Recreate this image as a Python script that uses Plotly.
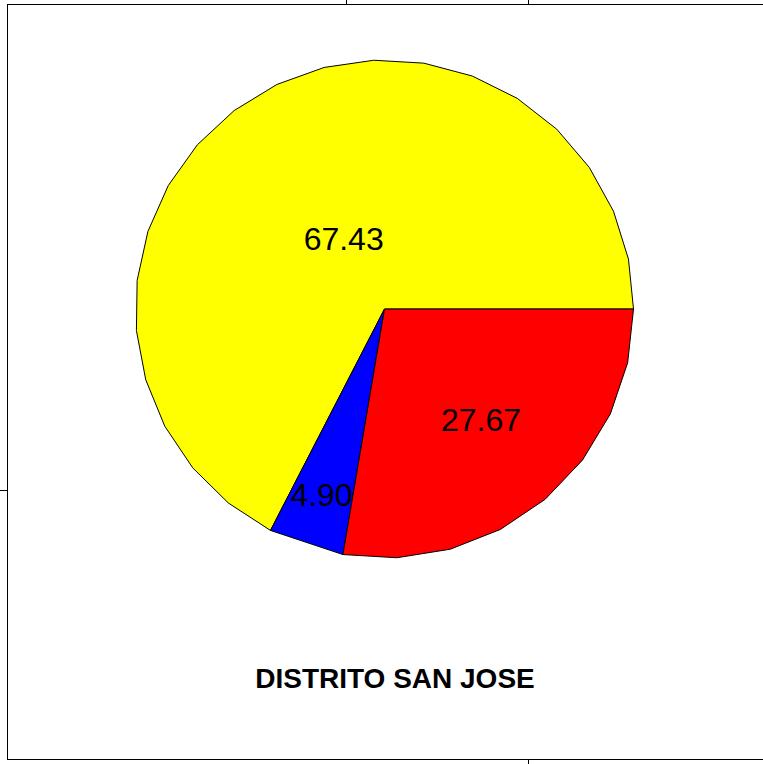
import numpy as np
import plotly.graph_objects as go

# ---- data ----
values = [67.43, 4.90, 27.67]
slice_colors = ["#FFFF00", "#0000FF", "#FF0000"]
label_radius = [0.315, 0.80, 0.60]   # where each value label sits (fraction of radius)
title_text = "DISTRITO SAN JOSE"
edges = 33   # polygon resolution of the pie outline (R style)

fig = go.Figure()

total = sum(values)
cum = np.concatenate([[0.0], np.cumsum(values) / total])
label_x, label_y, label_txt = [], [], []
for i, v in enumerate(values):
    a0, a1 = cum[i], cum[i + 1]
    n = max(2, int(np.floor(edges * (a1 - a0))))
    t = np.linspace(a0, a1, n) * 2 * np.pi
    xs = np.concatenate([[0.0], np.cos(t), [0.0]])
    ys = np.concatenate([[0.0], np.sin(t), [0.0]])
    fig.add_trace(go.Scatter(
        x=xs, y=ys, mode="lines", fill="toself",
        fillcolor=slice_colors[i],
        line=dict(color="black", width=1),
        hoverinfo="skip", showlegend=False))
    mid = (a0 + a1) / 2 * 2 * np.pi
    label_x.append(label_radius[i] * np.cos(mid))
    label_y.append(label_radius[i] * np.sin(mid))
    label_txt.append(f"{v:.2f}")

fig.add_trace(go.Scatter(
    x=label_x, y=label_y, mode="text", text=label_txt,
    textfont=dict(family="Liberation Sans, Arial, sans-serif", size=32, color="black"),
    hoverinfo="skip", showlegend=False))

# invisible trace so the top axis is drawn
fig.add_trace(go.Scatter(x=[0], y=[0], xaxis="x2", mode="markers",
                         marker=dict(opacity=0), hoverinfo="skip", showlegend=False))

xr = [-1.512, 1.520]
yr = [-1.807, 1.221]
fig.update_layout(
    width=763, height=764,
    margin=dict(l=8, r=0, t=5, b=5),
    paper_bgcolor="white", plot_bgcolor="white",
    xaxis=dict(range=xr, showgrid=False, zeroline=False, showline=True,
               linecolor="black", linewidth=1, ticks="outside", ticklen=5,
               tickcolor="black", tickvals=[0.580], showticklabels=False,
               fixedrange=True),
    xaxis2=dict(range=xr, overlaying="x", side="top", showgrid=False,
                zeroline=False, showline=True, linecolor="black", linewidth=1,
                ticks="outside", ticklen=5, tickcolor="black",
                tickvals=[-0.151, 0.580], showticklabels=False, fixedrange=True),
    yaxis=dict(range=yr, showgrid=False, zeroline=False, showline=True,
               linecolor="black", linewidth=1, ticks="outside", ticklen=8,
               tickcolor="black", tickvals=[-0.727], showticklabels=False,
               fixedrange=True),
    title=dict(text=f"<b>{title_text}</b>", xref="container", yref="container",
               x=395 / 763, y=1 - 678 / 764, xanchor="center", yanchor="middle",
               font=dict(family="Liberation Sans, Arial, sans-serif", size=28,
                         color="black")),
)

fig.write_html(
    "out.html",
    config={"displayModeBar": False},
    post_script="document.body.style.margin='0';document.body.style.overflow='hidden';",
)
